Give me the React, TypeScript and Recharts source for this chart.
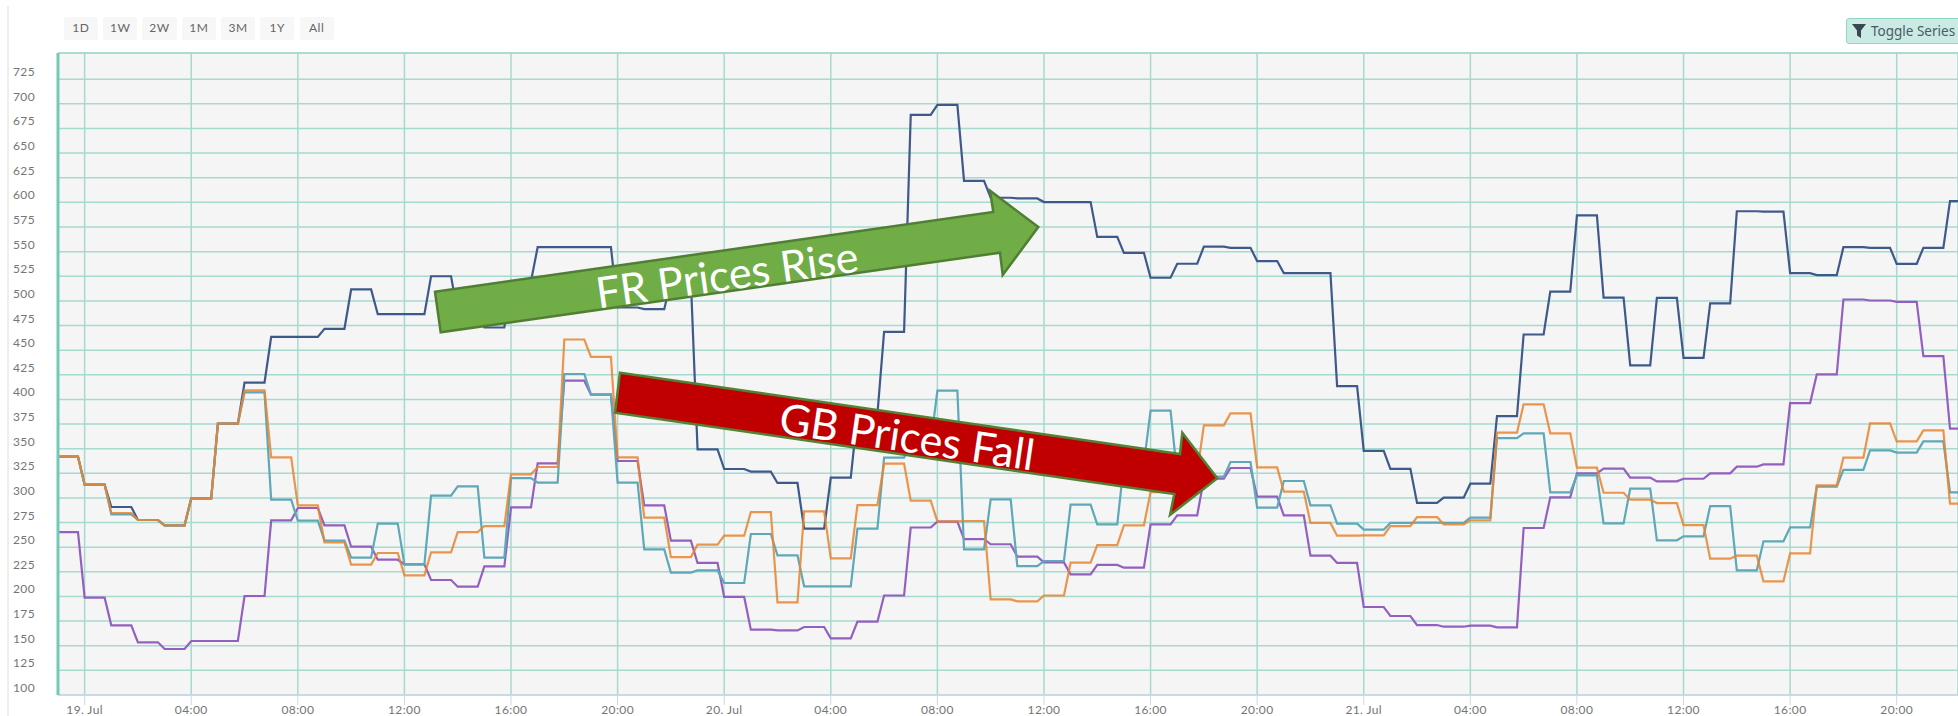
import React from 'react';
import { LineChart, Line, XAxis, YAxis, CartesianGrid, ReferenceLine } from 'recharts';

// hourly price levels, first value is 18:00 on 18 Jul (hour -1)
const firstHour = -1;

const frPrices = [
  341.9, 313.5, 290.8, 277.6, 272.2, 299.6, 375.4, 417, 463.5, 463.5, 471.7, 511.6,
  486.5, 486.5, 525, 487, 473, 520, 554.5, 554.5, 554.5, 493.3, 491.6, 520,
  349.3, 329.4, 326.7, 315.2, 268.8, 320.6, 385, 468.6, 688.8, 699, 621.9, 604.7,
  604, 600.3, 600.3, 565, 548.8, 523.5, 537.7, 555, 553.9, 540.4, 528.2, 528.2,
  413.5, 347.8, 329.5, 295, 300.3, 314.5, 383, 465.9, 509.5, 586.7, 503.4, 434.6,
  503.1, 442.2, 497.4, 591, 590.7, 528.1, 526.1, 554.5, 553.9, 537.6, 553.9, 601.2,
];

const gbPrices = [
  265.4, 198.8, 170.7, 153.5, 146.7, 154.8, 154.8, 200.5, 277.3, 289.8, 272.2, 250.5,
  237.3, 232.6, 216.7, 209.9, 230.6, 290.5, 335.1, 419, 404.8, 337.5, 292.5, 256.6,
  234, 199.5, 166.3, 165.6, 169, 157.5, 174.4, 201, 270, 276, 258.3, 253,
  240.4, 234.6, 222.5, 232, 229.2, 273.2, 282.3, 319.6, 330.4, 301.3, 282.3, 241.4,
  234, 189.3, 180.2, 171, 169.3, 170.4, 168.7, 269.5, 300.6, 325, 329.7, 320.6,
  316.8, 319.5, 325, 331.7, 334, 396.3, 425.4, 501.4, 500.4, 499, 443.9, 370.3,
];

const tealPrices = [
  341.9, 313.5, 283.4, 277.6, 272.2, 299.6, 375.4, 407.2, 298.2, 276.9, 256.6, 239.4,
  273.9, 232.6, 302.3, 311.8, 239.4, 320.2, 315.5, 425.8, 405.1, 315.5, 247.8, 224.2,
  226.5, 213.7, 263.4, 241.7, 210.3, 210.3, 268.8, 340.9, 355, 409, 247.8, 298.6,
  230.9, 236, 293.2, 273.2, 335, 388.6, 323, 321.6, 336.5, 290.1, 317.2, 292.5,
  273.9, 267.8, 274.6, 274.9, 274.6, 280, 360.8, 365.6, 305.7, 322.9, 274.2, 309.4,
  257, 261, 291.8, 226.5, 256, 270.2, 311.4, 328.4, 348.3, 346, 357.4, 305.7,
];

const orangePrices = [
  341.9, 313.5, 284.7, 277.6, 272.2, 299.6, 375.4, 409.2, 341.2, 292.5, 254.9, 232.3,
  244.1, 221.4, 244.8, 265.4, 271.5, 324, 331.4, 460.8, 443.2, 341.2, 280, 240,
  252.6, 261.7, 285.7, 194, 286.4, 238.7, 292.8, 334.8, 297.2, 276.2, 276.6, 197,
  195, 201, 234.3, 252.2, 272.2, 306, 326, 373.7, 385.9, 331, 306.4, 274.6,
  261.7, 262, 271.5, 280.6, 273.2, 277.3, 366.2, 395, 365.6, 330.7, 305.3, 298.2,
  294.8, 272.5, 238.4, 241.4, 215.4, 243.8, 312.8, 340.9, 375.7, 357.4, 368.6, 294.2,
];

const yTicks = [
  100, 125, 150, 175, 200, 225, 250, 275, 300, 325, 350, 375, 400, 425,
  450, 475, 500, 525, 550, 575, 600, 625, 650, 675, 700, 725,
];
const yMax = 751.6;

const xTickHours = [0, 4, 8, 12, 16, 20, 24, 28, 32, 36, 40, 44, 48, 52, 56, 60, 64, 68];
const xTickLabels = [
  '19. Jul', '04:00', '08:00', '12:00', '16:00', '20:00',
  '20. Jul', '04:00', '08:00', '12:00', '16:00', '20:00',
  '21. Jul', '04:00', '08:00', '12:00', '16:00', '20:00',
];

const rangeButtons = ['1D', '1W', '2W', '1M', '3M', '1Y', 'All'];

// each hourly price holds for 45 minutes, then moves to the next one
const chartData = frPrices.flatMap((fr, i) => {
  const row = { fr, gb: gbPrices[i], teal: tealPrices[i], orange: orangePrices[i] };
  const hour = firstHour + i;
  return [{ t: hour, ...row }, { t: hour + 0.75, ...row }];
});

const axisFont = 'Lato, sans-serif';
const labelColor = '#757575';
const gridColor = '#a6dacf';

const xTickText = (hour: number) => xTickLabels[xTickHours.indexOf(hour)] ?? '';

function YTick({ x, y, payload }: any) {
  return (
    <text x={x - 15} y={y - 7} dy={4} textAnchor="end" fontFamily={axisFont} fontSize={12} letterSpacing={0.4} fill={labelColor}>
      {payload.value}
    </text>
  );
}

export default function App() {
  return (
    <div style={{ position: 'absolute', left: 0, top: 0, width: 1958, height: 716, overflow: 'hidden', background: '#fff' }}>
      <div style={{ position: 'absolute', left: 7, top: 6, width: 2, height: 710, background: '#eeeeee' }} />

      {rangeButtons.map((label, i) => (
        <div
          key={label}
          style={{
            position: 'absolute', left: 63.7 + i * 39.3, top: 17, width: 34.3, height: 23, lineHeight: '22px',
            background: '#f7f7f7', borderRadius: 2, textAlign: 'center',
            fontFamily: axisFont, fontSize: 12, letterSpacing: 0.5, color: '#666',
          }}
        >
          {label}
        </div>
      ))}

      <div
        style={{
          position: 'absolute', left: 1846, top: 18, width: 140, height: 24, lineHeight: '24px', boxSizing: 'content-box',
          background: '#c9ebe3', border: '1px solid #8fd6c6', borderRadius: 3,
          fontFamily: '"Noto Sans", sans-serif', fontSize: 13.5, color: '#4c5a66', whiteSpace: 'nowrap',
        }}
      >
        <svg width={14} height={14} viewBox="0 0 14 14" style={{ position: 'absolute', left: 5, top: 5 }}>
          <polygon points="0,0 14,0 9,6.5 9,14 5,11.5 5,6.5" fill="#3a4750" />
        </svg>
        <span style={{ position: 'absolute', left: 24 }}>Toggle Series</span>
      </div>

      <div style={{ position: 'absolute', left: 0, top: 0 }}>
        <LineChart width={1958} height={716} data={chartData} margin={{ top: 53, right: 0, bottom: 0, left: 0 }}>
          <CartesianGrid stroke={gridColor} strokeWidth={1.5} fill="#f5f5f5" />
          <XAxis
            dataKey="t"
            type="number"
            domain={[firstHour, 70.3]}
            allowDataOverflow
            ticks={xTickHours}
            interval={0}
            tickFormatter={xTickText}
            axisLine={{ stroke: '#ccd6eb', strokeWidth: 1.5 }}
            tickLine={{ stroke: '#ccd6eb' }}
            tickSize={10}
            tickMargin={0}
            tick={{ fontFamily: axisFont, fontSize: 12, letterSpacing: 0.4, fill: labelColor }}
            height={21}
          />
          <YAxis
            type="number"
            domain={[100, yMax]}
            ticks={yTicks}
            interval={0}
            width={58}
            tick={<YTick />}
            tickLine={false}
            axisLine={{ stroke: '#73c9b5', strokeWidth: 3 }}
          />
          <ReferenceLine y={yMax} stroke={gridColor} strokeWidth={1.5} />
          <Line type="linear" dataKey="fr" stroke="#3f5a8a" strokeWidth={2.2} dot={false} isAnimationActive={false} />
          <Line type="linear" dataKey="gb" stroke="#9460bf" strokeWidth={2.2} dot={false} isAnimationActive={false} />
          <Line type="linear" dataKey="teal" stroke="#5fa8b8" strokeWidth={2.2} dot={false} isAnimationActive={false} />
          <Line type="linear" dataKey="orange" stroke="#e8842f" strokeOpacity={0.85} strokeWidth={2.2} dot={false} isAnimationActive={false} />
        </LineChart>
      </div>

      {/* callout arrows pasted over the chart */}
      <svg width={1958} height={716} style={{ position: 'absolute', left: 0, top: 0 }}>
        <polygon
          points="435,291.7 993.3,212 990,190.7 1038.3,227 1002.7,275 1000,252.7 440.7,332.3"
          fill="#70ad47"
          stroke="#507e32"
          strokeWidth={2.5}
        />
        <text x={727} y={290} transform="rotate(-8.1 727 275)" textAnchor="middle" fontFamily={axisFont} fontSize={43} fill="#fff">
          FR Prices Rise
        </text>
        <polygon
          points="620,372.7 1180,454 1182.3,432.7 1217.3,478.3 1170,515 1174.3,494 615,412.7"
          fill="#c00000"
          stroke="#548235"
          strokeWidth={2.5}
        />
        <text x={907} y={452} transform="rotate(8.3 907 437)" textAnchor="middle" fontFamily={axisFont} fontSize={43} fill="#fff">
          GB Prices Fall
        </text>
      </svg>
    </div>
  );
}
